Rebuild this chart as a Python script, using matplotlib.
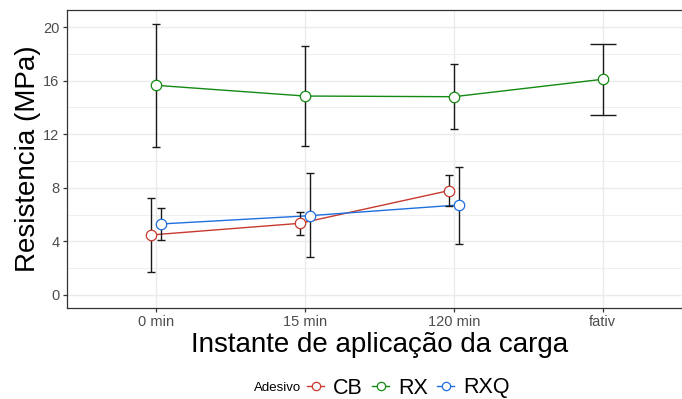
import matplotlib
matplotlib.use("Agg")
import matplotlib.pyplot as plt
from matplotlib.lines import Line2D
import numpy as np

plt.rcParams["font.family"] = ["Liberation Sans", "DejaVu Sans"]

# ── data ────────────────────────────────────────────────────────────────
categories = ["0 min", "15 min", "120 min", "fativ"]
adesivos = ["CB", "RX", "RXQ"]

cb_mean = [4.48, 5.35, 7.79]
cb_low = [1.72, 4.50, 6.67]
cb_high = [7.21, 6.17, 8.93]

rx_mean = [15.65, 14.85, 14.80, 16.10]
rx_low = [11.07, 11.14, 12.41, 13.43]
rx_high = [20.24, 18.60, 17.24, 18.75]

rxq_mean = [5.30, 5.92, 6.72]
rxq_low = [4.10, 2.81, 3.81]
rxq_high = [6.49, 9.08, 9.58]

colors = {"CB": "#C8392E", "RX": "#138A13", "RXQ": "#1F6FDF"}
offsets = {"CB": -0.033, "RX": 0.0, "RXQ": 0.033}

series = {
    "CB": (cb_mean, cb_low, cb_high),
    "RX": (rx_mean, rx_low, rx_high),
    "RXQ": (rxq_mean, rxq_low, rxq_high),
}

# ── figure ──────────────────────────────────────────────────────────────
W, H = 682, 399
fig = plt.figure(figsize=(W / 100, H / 100), dpi=100)
left, right, top, bottom = 66.7, 692.0, 10.3, 307.7
ax = fig.add_axes([left / W, 1 - bottom / H, (right - left) / W, (bottom - top) / H])

grid_c = "#EBEBEB"
ax.set_xlim(-0.6, 3.6)
ax.set_ylim(-0.95, 21.25)
ax.set_yticks([0, 4, 8, 12, 16, 20])
ax.set_yticks([2, 6, 10, 14, 18], minor=True)
ax.set_xticks(range(len(categories)))
ax.set_xticklabels(categories)
ax.grid(True, which="major", color=grid_c, linewidth=1.0, zorder=0)
ax.grid(True, which="minor", axis="y", color=grid_c, linewidth=0.55, zorder=0)
ax.set_axisbelow(True)

for name in adesivos:
    mean, low, high = series[name]
    n = len(mean)
    x = np.arange(n) + offsets[name]
    ax.plot(x, mean, color=colors[name], linewidth=1.0, zorder=2)
    for i in range(n):
        # dodge narrows the caps where three groups share a category
        cap = 2.9 if i < 3 else 9.1
        ax.errorbar(x[i], mean[i],
                    yerr=[[mean[i] - low[i]], [high[i] - mean[i]]],
                    fmt="none", ecolor="#1A1A1A", elinewidth=1.0,
                    capsize=cap, capthick=1.0, zorder=3)
    ax.plot(x, mean, linestyle="none", marker="o", markersize=7.5,
            markerfacecolor="white", markeredgecolor=colors[name],
            markeredgewidth=0.9, zorder=4)

for side in ["left", "bottom", "top"]:
    ax.spines[side].set_color("#333333")
    ax.spines[side].set_linewidth(0.9)
ax.spines["right"].set_visible(False)

ax.tick_params(axis="both", which="major", colors="#333333", length=2.8,
               width=0.9, labelsize=10.5, labelcolor="#4D4D4D", pad=2.5)
ax.tick_params(axis="y", which="minor", length=0)

ax.set_ylabel("Resistencia (MPa)", fontsize=20, color="black")
ax.yaxis.set_label_coords(-0.041, 0.5)
ax.set_xlabel("Instante de aplicação da carga", fontsize=20, color="black", labelpad=2)

# legend along the bottom, title to the left of the keys
fig.text(254 / W, 1 - 388 / H, "Adesivo", fontsize=9.5, ha="left", va="center")
handles = [Line2D([0], [0], color=colors[a], linewidth=1.0, marker="o",
                  markersize=6, markerfacecolor="white",
                  markeredgecolor=colors[a], markeredgewidth=0.9)
           for a in adesivos]
fig.legend(handles, adesivos, loc="center left",
           bbox_to_anchor=(307 / W, 1 - 388 / H), ncol=3, frameon=False,
           fontsize=15.5, handlelength=0.8, handletextpad=0.42,
           columnspacing=0.42, borderpad=0, borderaxespad=0)

fig.savefig("out.png", dpi=100)
